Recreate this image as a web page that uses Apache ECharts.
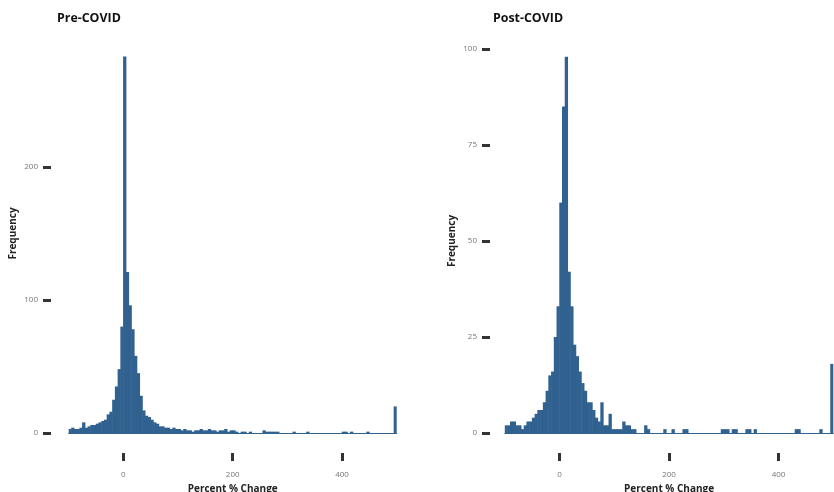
<!DOCTYPE html>
<html>
<head>
<meta charset="utf-8" />
<title>Percent % Change</title>
<script type="text/javascript" src="https://cdn.jsdelivr.net/npm/echarts@6/dist/echarts.min.js"></script>
</head>
<body style="margin:0;background-color:white;">
<div id="main" style="width:834px;height:492px;"></div>
<script type="text/javascript">
// bins of 5 percent points, left edges -100 ... 495
var binStarts = [];
for (var b = -100; b < 500; b += 5) { binStarts.push(b); }

var preCounts = [
  3, 4, 3, 3, 4, 8, 4, 5, 6, 6, 7, 8, 9, 10,
  14, 16, 25, 35, 48, 80, 283, 121, 96, 78, 58, 45, 28, 17, 13, 12,
  10, 8, 7, 5, 5, 4, 4, 3, 4, 3,
  3, 2, 3, 2, 2, 1, 2, 2, 3, 2, 2, 3, 2, 2, 1, 2, 2, 3, 1, 2,
  2, 1, 0, 1, 1, 0, 1, 0, 0, 0, 0, 2, 1, 1, 1, 1, 1, 0, 0, 0,
  0, 0, 1, 0, 0, 0, 0, 1, 0, 0, 0, 0, 0, 0, 0, 0, 0, 0, 0, 0,
  1, 1, 0, 1, 0, 0, 0, 0, 0, 1, 0, 0, 0, 0, 0, 0, 0, 0, 0, 20
];

var postCounts = [
  2, 2, 3, 3, 2, 2, 1, 2, 3, 3, 4, 5, 6, 6,
  8, 11, 15, 16, 25, 33, 60, 85, 98, 42, 33, 23, 20, 16, 13, 11,
  8, 8, 6, 4, 3, 8, 2, 2, 5, 1,
  1, 1, 1, 3, 2, 2, 1, 1, 0, 0, 0, 2, 1, 0, 0, 0, 0, 0, 1, 0,
  0, 1, 0, 0, 0, 1, 1, 0, 0, 0, 0, 0, 0, 0, 0, 0, 0, 0, 0, 1,
  1, 1, 0, 1, 1, 0, 0, 0, 1, 1, 0, 1, 0, 0, 0, 0, 0, 0, 0, 0,
  0, 0, 0, 0, 0, 0, 1, 1, 0, 0, 0, 0, 0, 0, 0, 1, 0, 0, 0, 18
];

var xTicks = [0, 200, 400];
var preYTicks = [0, 100, 200];
var postYTicks = [0, 25, 50, 75, 100];

var barColor = '#30618f';
var fontName = 'Open Sans';

var myChart = echarts.init(document.getElementById('main'));

function tickAxis(gridIndex, ticks) {
  return {
    type: 'value', gridIndex: gridIndex, position: 'bottom', min: -100, max: 500, offset: 20,
    name: 'Percent % Change', nameLocation: 'middle', nameGap: 25,
    nameTextStyle: { fontFamily: fontName, fontWeight: 'bold', fontSize: 10, color: '#222' },
    axisLine: { show: false, onZero: false },
    splitLine: { show: false },
    axisTick: { show: true, length: 8, lineStyle: { color: '#333', width: 3 }, customValues: ticks },
    axisLabel: { fontFamily: fontName, fontSize: 8, color: '#777', margin: 18, customValues: ticks }
  };
}

function barAxis(gridIndex) {
  return {
    type: 'category', gridIndex: gridIndex, position: 'bottom', data: binStarts, boundaryGap: true,
    axisLine: { show: true, onZero: false, lineStyle: { color: barColor, width: 1 } },
    axisTick: { show: false }, axisLabel: { show: false }, splitLine: { show: false }
  };
}

function countAxis(gridIndex, max, ticks, offset) {
  return {
    type: 'value', gridIndex: gridIndex, position: 'left', min: 0, max: max, offset: offset,
    name: 'Frequency', nameLocation: 'middle', nameRotate: 90, nameGap: 33,
    nameTextStyle: { fontFamily: fontName, fontWeight: 'bold', fontSize: 10, color: '#222' },
    axisLine: { show: false, onZero: false }, splitLine: { show: false },
    axisTick: { show: true, length: 8, lineStyle: { color: '#333', width: 3 }, customValues: ticks },
    axisLabel: { fontFamily: fontName, fontSize: 8, color: '#777', margin: 13, customValues: ticks }
  };
}

myChart.setOption({
  animation: false,
  title: [
    { text: 'Pre-COVID', left: 52, top: 7,
      textStyle: { fontFamily: fontName, fontWeight: 'bold', fontSize: 12.4, color: '#111' } },
    { text: 'Post-COVID', left: 488, top: 7,
      textStyle: { fontFamily: fontName, fontWeight: 'bold', fontSize: 12.4, color: '#111' } }
  ],
  grid: [
    { left: 68.7, top: 34, width: 328, height: 399, outerBoundsMode: 'none', containLabel: false },
    { left: 504.8, top: 49, width: 328.5, height: 384, outerBoundsMode: 'none', containLabel: false }
  ],
  xAxis: [barAxis(0), tickAxis(0, xTicks), barAxis(1), tickAxis(1, xTicks)],
  yAxis: [
    countAxis(0, 300, preYTicks, 17.7),
    countAxis(1, 100, postYTicks, 14.8)
  ],
  series: [
    { name: 'Pre-COVID', type: 'bar', xAxisIndex: 0, yAxisIndex: 0, data: preCounts,
      barWidth: 3.3, itemStyle: { color: barColor } },
    { name: 'Post-COVID', type: 'bar', xAxisIndex: 2, yAxisIndex: 1, data: postCounts,
      barWidth: 3.3, itemStyle: { color: barColor } }
  ]
});
</script>
</body>
</html>
